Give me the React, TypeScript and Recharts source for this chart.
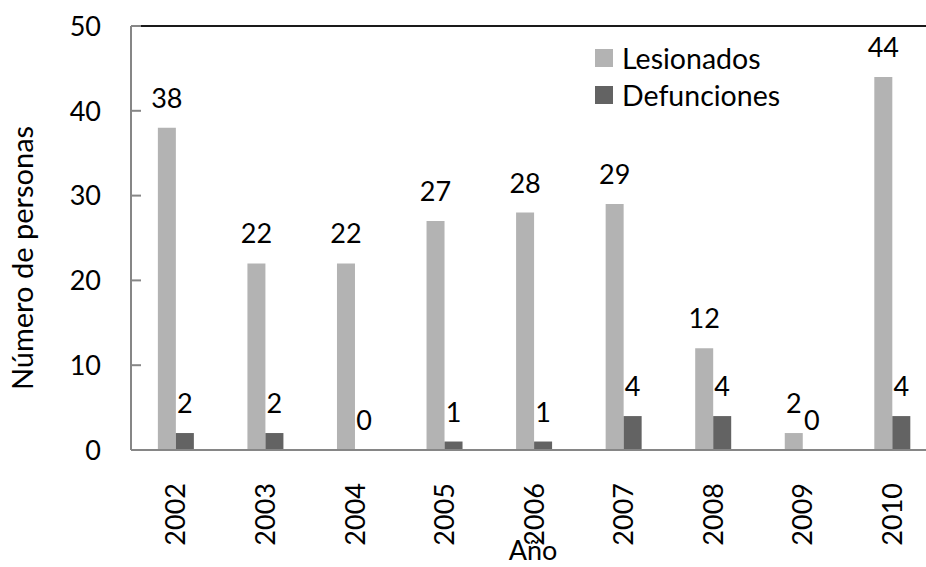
import React from "react";
import { BarChart, Bar, XAxis, YAxis, LabelList, ReferenceLine, Label } from "recharts";

const years = ["2002", "2003", "2004", "2005", "2006", "2007", "2008", "2009", "2010"];
const lesionados = [38, 22, 22, 27, 28, 29, 12, 2, 44];
const defunciones = [2, 2, 0, 1, 1, 4, 4, 0, 4];
const yTicks = [0, 10, 20, 30, 40, 50];

const data = years.map((y, i) => ({ year: y, Lesionados: lesionados[i], Defunciones: defunciones[i] }));

const FONT = "Lato, 'Open Sans', sans-serif";
const LIGHT = "#b3b3b3";
const DARK = "#636363";
const AXIS = "#868686";

const YTick = (props: any) => {
  const { x, y, payload } = props;
  return (
    <g>
      {payload.value !== 0 && (
        <line x1={x + 30} x2={x + 40} y1={y} y2={y} stroke={AXIS} strokeWidth={2} />
      )}
      <text x={x} y={y} dy="0.36em" textAnchor="end" fontFamily={FONT} fontSize={27} fill="#000">
        {payload.value}
      </text>
    </g>
  );
};

const XTick = (props: any) => {
  const { x, y, payload } = props;
  return (
    <text
      x={x}
      y={y}
      dy="0.36em"
      textAnchor="end"
      transform={`rotate(-90, ${x}, ${y})`}
      fontFamily={FONT}
      fontSize={27}
      fill="#000"
    >
      {payload.value}
    </text>
  );
};

const legendItems = [
  { name: "Lesionados", color: LIGHT },
  { name: "Defunciones", color: DARK },
];

export default function App() {
  return (
    <div style={{ position: "absolute", left: 0, top: 0, width: 926, height: 567, overflow: "hidden", background: "#fff" }}>
      <BarChart
        width={941}
        height={567}
        data={data}
        margin={{ top: 26, right: 4, left: 0, bottom: 0 }}
        barCategoryGap="30%"
        barGap={0}
      >
        <XAxis
          dataKey="year"
          height={117}
          axisLine={{ stroke: AXIS, strokeWidth: 2 }}
          tickLine={false}
          tickSize={0}
          tickMargin={33}
          tick={<XTick />}
          interval={0}
        >
          <Label
            content={() => (
              <text x={533} y={560} textAnchor="middle" fontFamily={FONT} fontSize={27} fill="#000">
                Año
              </text>
            )}
          />
        </XAxis>
        <YAxis
          width={131}
          domain={[0, 50]}
          ticks={yTicks}
          axisLine={{ stroke: AXIS, strokeWidth: 2 }}
          tickLine={false}
          tickSize={0}
          tickMargin={30}
          tick={<YTick />}
          interval={0}
        >
          <Label
            content={() => (
              <text
                x={33}
                y={258}
                textAnchor="middle"
                transform="rotate(-90, 33, 258)"
                fontFamily={FONT}
                fontSize={29}
                fill="#000"
              >
                Número de personas
              </text>
            )}
          />
        </YAxis>
        <ReferenceLine y={50} stroke="#1a1a1a" strokeWidth={2} />
        <Bar dataKey="Lesionados" fill={LIGHT} isAnimationActive={false} minPointSize={0.01}>
          <LabelList dataKey="Lesionados" position="top" offset={20} fontFamily={FONT} fontSize={27} fill="#000" />
        </Bar>
        <Bar dataKey="Defunciones" fill={DARK} isAnimationActive={false} minPointSize={0.01}>
          <LabelList dataKey="Defunciones" position="top" offset={20} fontFamily={FONT} fontSize={27} fill="#000" />
        </Bar>
      </BarChart>
      <div style={{ position: "absolute", left: 595, top: 39, fontFamily: FONT, fontSize: 28.5, color: "#000" }}>
        {legendItems.map((it) => (
          <div key={it.name} style={{ display: "flex", alignItems: "center", height: 37 }}>
            <span style={{ width: 18, height: 18, background: it.color, display: "inline-block", marginRight: 9 }} />
            <span>{it.name}</span>
          </div>
        ))}
      </div>
    </div>
  );
}
